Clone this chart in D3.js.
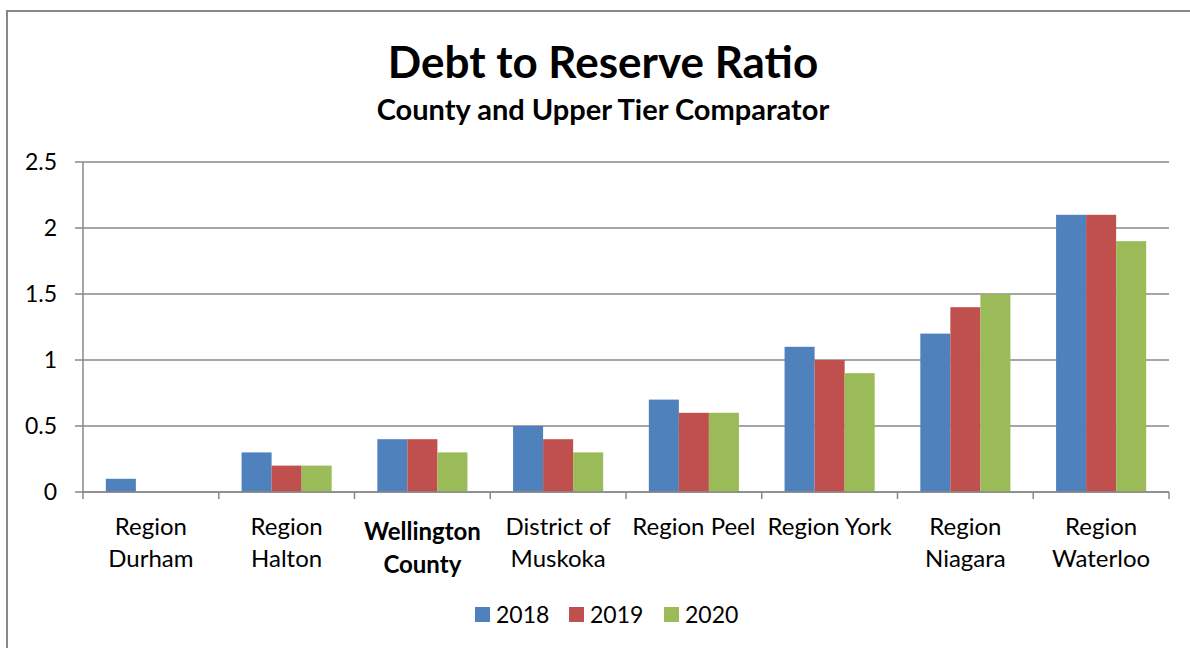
<!DOCTYPE html>
<html><head><meta charset="utf-8">
<script src="https://cdn.jsdelivr.net/npm/d3@7"></script>
<style>html,body{margin:0;padding:0;background:#fff}svg{display:block}text{font-family:Lato,"Open Sans",sans-serif;fill:#000}</style>
</head><body>
<script>
const categories = [["Region","Durham"],["Region","Halton"],["Wellington","County"],["District of","Muskoka"],["Region Peel"],["Region York"],["Region","Niagara"],["Region","Waterloo"]];
const boldCategory = 2;
const seriesNames = ["2018","2019","2020"];
const values2018 = [0.1,0.3,0.4,0.5,0.7,1.1,1.2,2.1];
const values2019 = [0,0.2,0.4,0.4,0.6,1.0,1.4,2.1];
const values2020 = [0,0.2,0.3,0.3,0.6,0.9,1.5,1.9];
const yTicks = [0,0.5,1,1.5,2,2.5];
const colors = ["#4F81BD","#C0504D","#9BBB59"];
const series = [values2018, values2019, values2020];

const W=1190,H=648;
const svg=d3.select("body").append("svg").attr("width",W).attr("height",H);
svg.append("rect").attr("x",7).attr("y",11).attr("width",W).attr("height",H).attr("fill","none").attr("stroke","#888").attr("stroke-width",2);

const L=83,R=1169,T=162,B=492;
const x=d3.scaleBand().domain(d3.range(categories.length)).range([L,R]).paddingInner(0).paddingOuter(0);
const xs=d3.scaleBand().domain(d3.range(3)).range([0,x.bandwidth()]).paddingInner(0).paddingOuter(0.76);
const y=d3.scaleLinear().domain([0,2.5]).range([B,T]);

svg.append("text").attr("x",603).attr("y",78).attr("text-anchor","middle").attr("font-size",44).attr("font-weight","bold").text("Debt to Reserve Ratio");
svg.append("text").attr("x",603).attr("y",120).attr("text-anchor","middle").attr("font-size",29).attr("font-weight","bold").text("County and Upper Tier Comparator");

// gridlines
svg.append("g").selectAll("line").data(yTicks).join("line")
 .attr("x1",L-8).attr("x2",R).attr("y1",d=>y(d)).attr("y2",d=>y(d)).attr("stroke","#888").attr("stroke-width",1.5);
svg.append("g").selectAll("text").data(yTicks).join("text")
 .attr("x",57).attr("y",d=>y(d)+8).attr("text-anchor","end").attr("font-size",23).text(d=>d);
// y axis line
svg.append("line").attr("x1",L).attr("x2",L).attr("y1",T).attr("y2",B).attr("stroke","#888").attr("stroke-width",1.5);

// bars
series.forEach((vals,si)=>{
  svg.append("g").selectAll("rect").data(vals).join("rect")
   .attr("x",(d,i)=>x(i)+xs(si)).attr("width",xs.bandwidth())
   .attr("y",d=>y(d)).attr("height",d=>B-y(d)).attr("fill",colors[si]);
});

// x axis
svg.append("line").attr("x1",L).attr("x2",R).attr("y1",B).attr("y2",B).attr("stroke","#888").attr("stroke-width",1.5);
svg.append("g").selectAll("line").data(d3.range(categories.length+1)).join("line")
 .attr("x1",d=>L+d*x.bandwidth()).attr("x2",d=>L+d*x.bandwidth()).attr("y1",B).attr("y2",B+7).attr("stroke","#888").attr("stroke-width",1.5);
const cl=svg.append("g").selectAll("text").data(categories).join("text")
 .attr("text-anchor","middle").attr("font-size",24).attr("font-weight",(d,i)=>i===boldCategory?"bold":"normal");
cl.each(function(d,i){
  const t=d3.select(this);
  const b=i===boldCategory;
  d.forEach((ln,j)=>t.append("tspan").attr("x",x(i)+x.bandwidth()/2).attr("y",(b?540:535)+j*(b?33:32)).text(ln));
});

// legend
const lg=svg.append("g");
const lx=[475,569,664];
seriesNames.forEach((s,i)=>{
  lg.append("rect").attr("x",lx[i]).attr("y",607).attr("width",15).attr("height",15).attr("fill",colors[i]);
  lg.append("text").attr("x",lx[i]+21).attr("y",623).attr("font-size",23).text(s);
});
</script>
</body></html>
